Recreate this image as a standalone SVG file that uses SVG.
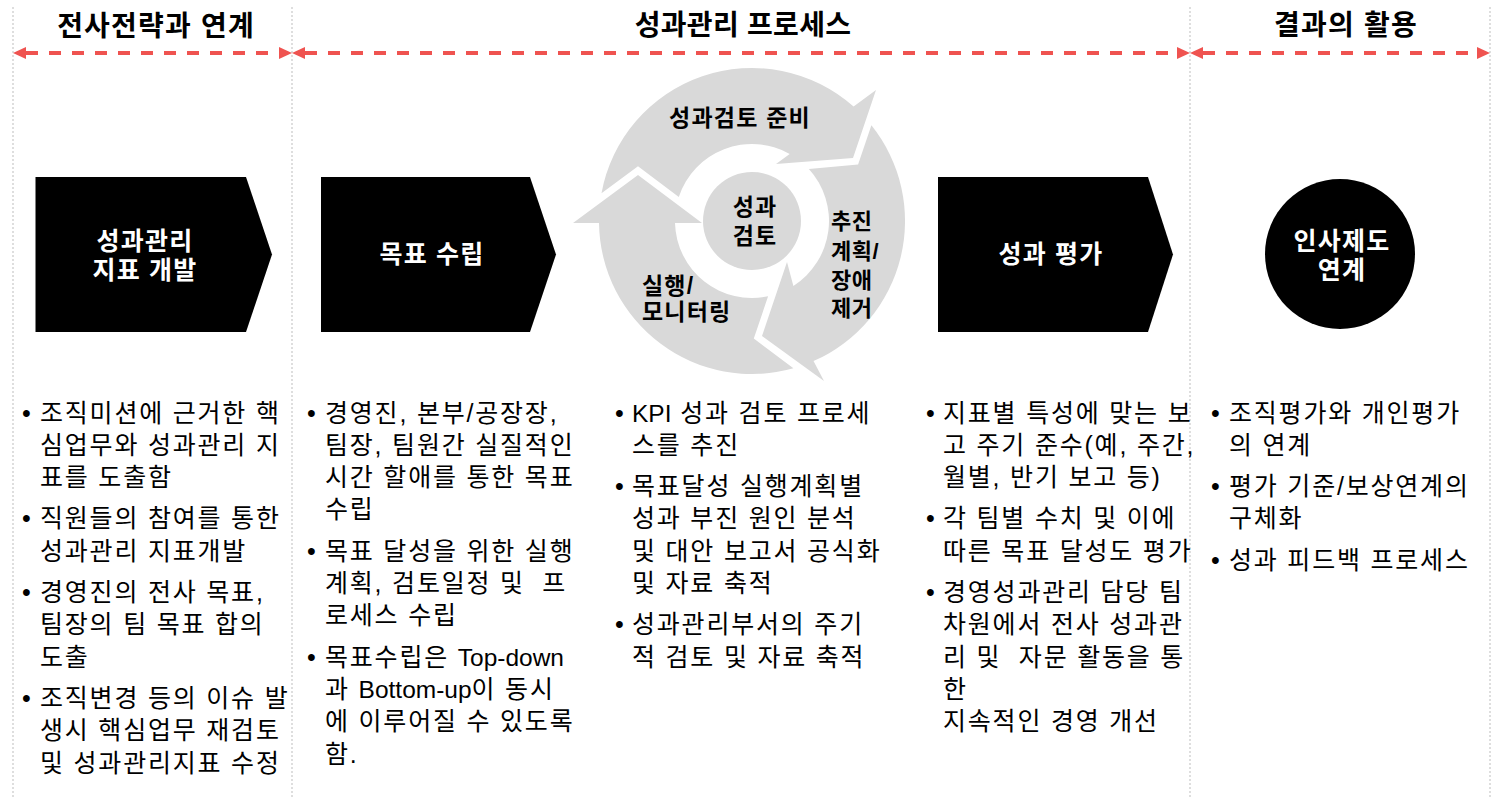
<svg xmlns="http://www.w3.org/2000/svg" width="1503" height="799" viewBox="0 0 1503 799">
<defs>
<style>
text{font-family:"Liberation Sans","Noto Sans CJK KR",sans-serif;fill:#000}
.hdr{font-size:28px;font-weight:bold;text-anchor:middle;letter-spacing:1.2px}
.box{fill:#000}
.lbl{font-size:25px;font-weight:bold;fill:#fff;text-anchor:middle;letter-spacing:1.2px}
.cyc{fill:#D9D9D9}
.cl{font-size:23px;font-weight:bold;letter-spacing:1.2px}
.body{font-size:25px;letter-spacing:1.8px}
.lat{font-size:24.5px;letter-spacing:0}
.sep{stroke:#BDBDBD;stroke-width:1;stroke-dasharray:2 2;fill:none}
.red{stroke:#EF5350;stroke-width:4;stroke-dasharray:12 11;fill:none}
</style>
<marker id="ah" viewBox="0 0 13 12" refX="0" refY="6" markerWidth="13" markerHeight="12" markerUnits="userSpaceOnUse" orient="auto-start-reverse">
<path d="M0,0 L13,6 L0,12 Z" fill="#EF5350"/>
</marker>
</defs>
<rect width="1503" height="799" fill="#fff"/>

<g id="separators">
<line class="sep" x1="13" y1="7" x2="13" y2="799"/>
<line class="sep" x1="292" y1="7" x2="292" y2="799"/>
<line class="sep" x1="1190" y1="7" x2="1190" y2="799"/>
<line class="sep" x1="1490" y1="7" x2="1490" y2="799"/>
</g>

<g id="headers">
<text class="hdr" x="156" y="36">전사전략과 연계</text>
<text class="hdr" x="743" y="35" style="letter-spacing:0.3px">성과관리 프로세스</text>
<text class="hdr" x="1346" y="35">결과의 활용</text>
</g>

<g id="connectors">
<path class="red" d="M26,53 L279,53" marker-start="url(#ah)" marker-end="url(#ah)"/>
<path class="red" d="M305,53 L1177,53" marker-start="url(#ah)" marker-end="url(#ah)"/>
<path class="red" d="M1203,53 L1477,53" marker-start="url(#ah)" marker-end="url(#ah)"/>
</g>

<g id="node-indicator">
<path class="box" d="M35.5,177 L246,177 L272,254.5 L246,332 L35.5,332 Z"/>
<text class="lbl" x="145" y="250">성과관리</text>
<text class="lbl" x="145" y="279">지표 개발</text>
</g>

<g id="node-goal">
<path class="box" d="M321,177 L530,177 L556,254.5 L530,332 L321,332 Z"/>
<text class="lbl" x="432" y="263">목표 수립</text>
</g>

<g id="node-cycle">
<path class="cyc" d="M601.5,193.2 A153,153 0 0 1 853.6,106.6 L876,90 L853,158 L776,164 L789.7,153.9 A77,77 0 0 0 678.8,196.9 L638,166.3 Z"/>
<path class="cyc" d="M871.4,125.3 A153,153 0 0 1 813.5,361.1 L824,381 L762,336 L787,262 L793.4,285.9 A77,77 0 0 0 808.9,169.1 L858.1,164.6 Z"/>
<path class="cyc" d="M793.4,368.3 A153,153 0 0 1 599,223 L573,223 L638,175 L702,223 L675,223 A77,77 0 0 0 768.1,296.3 L753.8,338.6 Z"/>
<circle class="cyc" cx="752" cy="221" r="49"/>
<text class="cl" x="740" y="126" text-anchor="middle">성과검토 준비</text>
<text class="cl" x="755" y="215" text-anchor="middle">성과</text>
<text class="cl" x="755" y="244" text-anchor="middle">검토</text>
<text class="cl" x="831" y="229" style="font-size:22px;letter-spacing:0.5px">추진</text>
<text class="cl" x="831" y="259" style="font-size:22px;letter-spacing:0.5px">계획/</text>
<text class="cl" x="831" y="288" style="font-size:22px;letter-spacing:0.5px">장애</text>
<text class="cl" x="831" y="316" style="font-size:22px;letter-spacing:0.5px">제거</text>
<text class="cl" x="642" y="294">실행/</text>
<text class="cl" x="642" y="320">모니터링</text>
</g>

<g id="node-evaluation">
<path class="box" d="M938,177 L1148,177 L1173,254.5 L1148,332 L938,332 Z"/>
<text class="lbl" x="1051" y="263">성과 평가</text>
</g>

<g id="node-hr">
<circle class="box" cx="1340" cy="254" r="75"/>
<text class="lbl" x="1342" y="250">인사제도</text>
<text class="lbl" x="1342" y="279">연계</text>
</g>

<g id="text-col1">
<text class="body" x="22" y="421.5">•</text>
<text class="body"><tspan x="40" y="421.5">조직미션에 근거한 핵</tspan><tspan x="40" y="453.8">심업무와 성과관리 지</tspan><tspan x="40" y="486.1">표를 도출함</tspan></text>
<text class="body" x="22" y="527.4">•</text>
<text class="body"><tspan x="40" y="527.4">직원들의 참여를 통한</tspan><tspan x="40" y="559.7">성과관리 지표개발</tspan></text>
<text class="body" x="22" y="601">•</text>
<text class="body"><tspan x="40" y="601">경영진의 전사 목표,</tspan><tspan x="40" y="633.3">팀장의 팀 목표 합의</tspan><tspan x="40" y="665.6">도출</tspan></text>
<text class="body" x="22" y="706.9">•</text>
<text class="body"><tspan x="40" y="706.9">조직변경 등의 이슈 발</tspan><tspan x="40" y="739.2">생시 핵심업무 재검토</tspan><tspan x="40" y="771.5">및 성과관리지표 수정</tspan></text>
</g>

<g id="text-col2">
<text class="body" x="307" y="421.5">•</text>
<text class="body"><tspan x="325" y="421.5">경영진, 본부/공장장,</tspan><tspan x="325" y="453.8">팀장, 팀원간 실질적인</tspan><tspan x="325" y="486.1">시간 할애를 통한 목표</tspan><tspan x="325" y="518.4">수립</tspan></text>
<text class="body" x="307" y="559.7">•</text>
<text class="body"><tspan x="325" y="559.7">목표 달성을 위한 실행</tspan><tspan x="325" y="592">계획, 검토일정 및&#160; 프</tspan><tspan x="325" y="624.3">로세스 수립</tspan></text>
<text class="body" x="307" y="665.6">•</text>
<text class="body"><tspan x="325" y="665.6">목표수립은 </tspan><tspan class="lat">Top-down</tspan><tspan x="325" y="697.9">과 </tspan><tspan class="lat">Bottom-up</tspan><tspan>이 동시</tspan><tspan x="325" y="730.2">에 이루어질 수 있도록</tspan><tspan x="325" y="762.5">함.</tspan></text>
</g>

<g id="text-col3">
<text class="body" x="615" y="421.5">•</text>
<text class="body"><tspan x="632" y="421.5" class="lat">KPI</tspan><tspan> 성과 검토 프로세</tspan><tspan x="632" y="453.8">스를 추진</tspan></text>
<text class="body" x="615" y="495.1">•</text>
<text class="body"><tspan x="632" y="495.1">목표달성 실행계획별</tspan><tspan x="632" y="527.4">성과 부진 원인 분석</tspan><tspan x="632" y="559.7">및 대안 보고서 공식화</tspan><tspan x="632" y="592">및 자료 축적</tspan></text>
<text class="body" x="615" y="633.3">•</text>
<text class="body"><tspan x="632" y="633.3">성과관리부서의 주기</tspan><tspan x="632" y="665.6">적 검토 및 자료 축적</tspan></text>
</g>

<g id="text-col4">
<text class="body" x="926" y="421.5">•</text>
<text class="body"><tspan x="943" y="421.5">지표별 특성에 맞는 보</tspan><tspan x="943" y="453.8">고 주기 준수(예, 주간,</tspan><tspan x="943" y="486.1">월별, 반기 보고 등)</tspan></text>
<text class="body" x="926" y="527.4">•</text>
<text class="body"><tspan x="943" y="527.4">각 팀별 수치 및 이에</tspan><tspan x="943" y="559.7">따른 목표 달성도 평가</tspan></text>
<text class="body" x="926" y="601">•</text>
<text class="body"><tspan x="943" y="601">경영성과관리 담당 팀</tspan><tspan x="943" y="633.3">차원에서 전사 성과관</tspan><tspan x="943" y="665.6">리 및&#160; 자문 활동을 통</tspan><tspan x="943" y="697.9">한</tspan><tspan x="943" y="730.2">지속적인 경영 개선</tspan></text>
</g>

<g id="text-col5">
<text class="body" x="1211" y="421.5">•</text>
<text class="body"><tspan x="1229" y="421.5">조직평가와 개인평가</tspan><tspan x="1229" y="453.8">의 연계</tspan></text>
<text class="body" x="1211" y="495.1">•</text>
<text class="body"><tspan x="1229" y="495.1">평가 기준/보상연계의</tspan><tspan x="1229" y="527.4">구체화</tspan></text>
<text class="body" x="1211" y="568.7">•</text>
<text class="body"><tspan x="1229" y="568.7">성과 피드백 프로세스</tspan></text>
</g>
</svg>
